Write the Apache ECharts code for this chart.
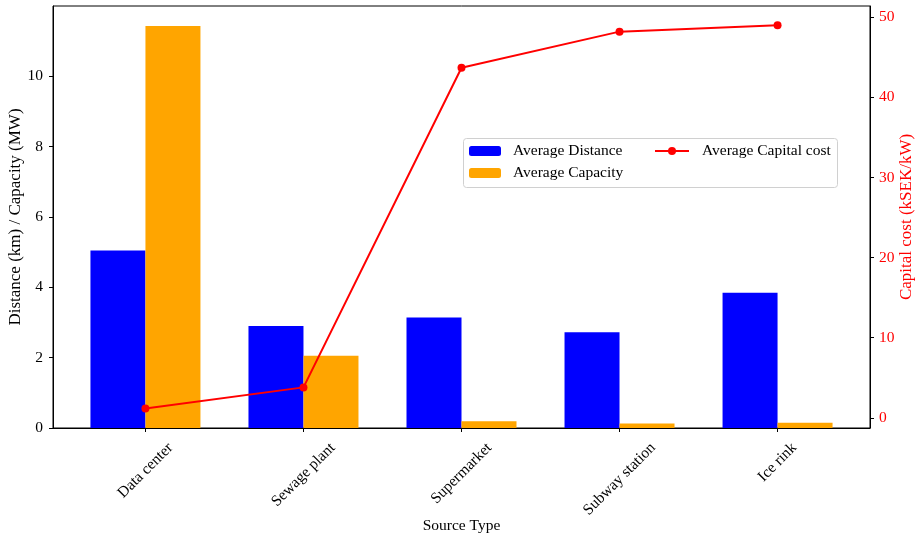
<!DOCTYPE html>
<html>
<head>
<meta charset="utf-8">
<script src="https://cdn.jsdelivr.net/npm/echarts@6/dist/echarts.min.js"></script>
<style>html,body{margin:0;padding:0;background:#fff}#c{width:918px;height:537px}</style>
</head>
<body>
<div id="c"></div>
<script>
const categories = ['Data center', 'Sewage plant', 'Supermarket', 'Subway station', 'Ice rink'];
const avgDistance = [5.04, 2.90, 3.14, 2.72, 3.84];
const avgCapacity = [11.42, 2.05, 0.19, 0.13, 0.15];
const avgCapitalCost = [1.15, 3.8, 43.7, 48.2, 49.0];
const leftTicks = [0, 2, 4, 6, 8, 10];
const rightTicks = [0, 10, 20, 30, 40, 50];

const font = 'Liberation Serif';
const tickFs = 15.5;
const idx = categories.map((c, i) => i);

// matplotlib-style rotated labels: bounding box centred on the tick, top just below the axis
const ctx = document.createElement('canvas').getContext('2d');
ctx.font = tickFs + 'px "' + font + '"';
const rich = {};
categories.forEach((c, i) => {
  const w = ctx.measureText(c).width;
  const H = (w + tickFs) / Math.SQRT2;
  const delta = 8 + H / 2;
  const p = Math.SQRT2 * delta;
  rich['r' + i] = {padding: [p, p, 0, 0], fontFamily: font, fontSize: tickFs, color: '#000'};
});

const chart = echarts.init(document.getElementById('c'), null, {renderer: 'canvas'});
chart.setOption({
  animation: false,
  textStyle: {fontFamily: font},
  grid: {left: 53, right: 48, top: 6, bottom: 109, containLabel: false, outerBoundsMode: 'none',
    show: true, borderColor: '#000', borderWidth: 1, backgroundColor: 'transparent'},
  xAxis: {
    type: 'value', min: -0.585, max: 4.585,
    name: 'Source Type', nameLocation: 'middle', nameGap: 90, nameMoveOverlap: false,
    nameTextStyle: {fontFamily: font, fontSize: 15.5, color: '#000'},
    axisLine: {show: true, onZero: false, lineStyle: {color: '#000', width: 1}},
    axisTick: {show: true, length: 4, lineStyle: {color: '#000'}, customValues: idx},
    axisLabel: {customValues: idx, rotate: 45, align: 'center', verticalAlign: 'middle', margin: 4,
      fontFamily: font, fontSize: tickFs, color: '#000', rich: rich, hideOverlap: false,
      formatter: v => '{r' + Math.round(v) + '|' + categories[Math.round(v)] + '}'},
    splitLine: {show: false}
  },
  yAxis: [{
    type: 'value', min: 0, max: 11.99, position: 'left',
    name: 'Distance (km) / Capacity (MW)', nameLocation: 'middle', nameGap: 29, nameMoveOverlap: false,
    nameTextStyle: {fontFamily: font, fontSize: 17, color: '#000'},
    axisLine: {show: true, onZero: false, lineStyle: {color: '#000'}},
    axisTick: {show: true, length: 4, lineStyle: {color: '#000'}, customValues: leftTicks},
    axisLabel: {customValues: leftTicks, fontFamily: font, fontSize: tickFs, color: '#000', margin: 10},
    splitLine: {show: false}
  }, {
    type: 'value', min: -1.27, max: 51.4, position: 'right',
    name: 'Capital cost (kSEK/kW)', nameLocation: 'middle', nameGap: 28, nameRotate: 90, nameMoveOverlap: false,
    nameTextStyle: {fontFamily: font, fontSize: 17, color: '#ff0000'},
    axisLine: {show: true, onZero: false, lineStyle: {color: '#000'}},
    axisTick: {show: true, length: 4, lineStyle: {color: '#000'}, customValues: rightTicks},
    axisLabel: {customValues: rightTicks, fontFamily: font, fontSize: tickFs, color: '#ff0000', margin: 9},
    splitLine: {show: false}
  }],
  legend: [{
    data: ['Average Distance', 'Average Capacity'],
    orient: 'vertical', left: 464, top: 138, itemWidth: 32, itemHeight: 10, itemGap: 6,
    textStyle: {fontFamily: font, fontSize: 15.5, color: '#000', padding: [0, 0, 0, 7]}
  }, {
    data: ['Average Capital cost'],
    orient: 'vertical', left: 649, top: 138, itemWidth: 34, itemHeight: 10,
    textStyle: {fontFamily: font, fontSize: 15.5, color: '#000', padding: [0, 0, 0, 8]}
  }],
  graphic: [{
    type: 'rect', left: 463, top: 138, z: -1,
    shape: {width: 374, height: 49, r: 3},
    style: {fill: 'rgba(255,255,255,0.8)', stroke: '#d0d0d0', lineWidth: 1}
  }],
  series: [{
    name: 'Average Distance', type: 'bar', barWidth: 55, barGap: '0%',
    itemStyle: {color: '#0000ff'},
    data: avgDistance.map((v, i) => [i, v])
  }, {
    name: 'Average Capacity', type: 'bar', barWidth: 55, barGap: '0%',
    itemStyle: {color: '#ffa500'},
    data: avgCapacity.map((v, i) => [i, v])
  }, {
    name: 'Average Capital cost', type: 'line', yAxisIndex: 1,
    symbol: 'circle', symbolSize: 8, z: 5,
    lineStyle: {color: '#ff0000', width: 2}, itemStyle: {color: '#ff0000'},
    data: avgCapitalCost.map((v, i) => [i, v])
  }]
});
</script>
</body>
</html>
